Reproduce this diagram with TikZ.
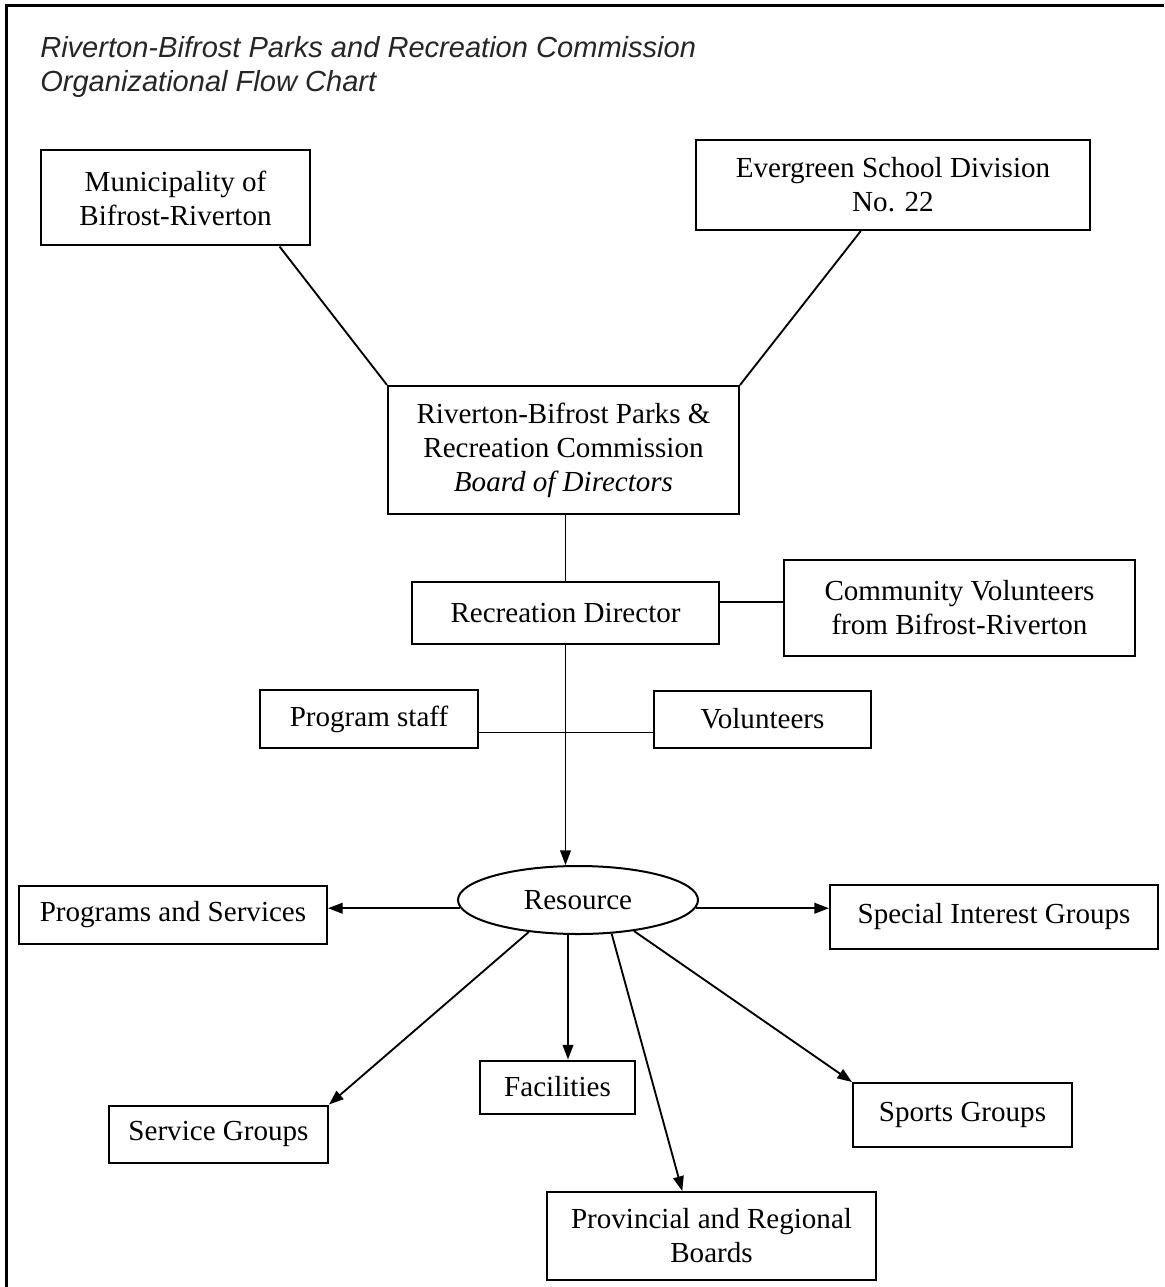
\documentclass[tikz,border=0pt]{standalone}
\usepackage{fontspec}
\setmainfont{Liberation Serif}
\newfontfamily\titlefont{Liberation Sans}
\usetikzlibrary{shapes.geometric,arrows.meta}
\begin{document}
\begin{tikzpicture}[x=0.75pt,y=0.75pt,yscale=-1,xscale=1,
  box/.style={draw, line width=1.5pt, inner sep=0pt, align=center, font=\fontsize{21.8}{25.5}\selectfont},
  link/.style={line width=1.4pt},
  arr/.style={line width=1.4pt, -{Triangle[length=11pt,width=8pt]}}]
\useasboundingbox (0,0) rectangle (1164,1287);

%Frame
\draw [line width=2.4pt] (1164,5.5) -- (6.5,5.5) -- (6.5,1287) ;

% Text Node
\node [anchor=west, align=left, inner sep=0pt, text=black!85, font=\titlefont\itshape\fontsize{21.8}{25.5}\selectfont] (title) at (40,67) {Riverton-Bifrost Parks and Recreation Commission\\Organizational Flow Chart};

%Shape: Rectangle
\node [box, minimum width=201.75pt, minimum height=71.25pt] (muni) at (175.5,198) {Municipality of\\Bifrost-Riverton};
%Shape: Rectangle
\node [box, minimum width=295.5pt, minimum height=67.5pt] (ever) at (893,185) {Evergreen School Division\\No. 22};
%Shape: Rectangle
\node [box, minimum width=263.25pt, minimum height=96pt] (board) at (563.5,450) {Riverton-Bifrost Parks \&\\Recreation Commission\\\textit{Board of Directors}};
%Shape: Rectangle
\node [box, minimum width=230.25pt, minimum height=46.5pt] (rd) at (565.5,613) {Recreation Director};
%Shape: Rectangle
\node [box, minimum width=263.25pt, minimum height=72pt] (comm) at (959.5,608) {Community Volunteers\\from Bifrost-Riverton};
%Shape: Rectangle
\node [box, minimum width=163.5pt, minimum height=43.5pt] (staff) at (369,719) {Program staff};
%Shape: Rectangle
\node [box, minimum width=162.75pt, minimum height=42.75pt] (vol) at (762.5,719) {Volunteers};
%Shape: Ellipse
\node [box, ellipse, minimum width=180pt, minimum height=51pt] (res) at (578,900) {Resource};
%Shape: Rectangle
\node [box, minimum width=231pt, minimum height=43.5pt] (prog) at (173,915) {Programs and Services};
%Shape: Rectangle
\node [box, minimum width=246pt, minimum height=48pt] (spec) at (994,917) {Special Interest Groups};
%Shape: Rectangle
\node [box, minimum width=164.25pt, minimum height=42.75pt] (serv) at (218.5,1134) {Service Groups};
%Shape: Rectangle
\node [box, minimum width=116.25pt, minimum height=39.75pt] (fac) at (557.5,1087) {Facilities};
%Shape: Rectangle
\node [box, minimum width=164.25pt, minimum height=48pt] (sport) at (962.5,1115) {Sports Groups};
%Shape: Rectangle
\node [box, minimum width=246.75pt, minimum height=66pt] (prov) at (711.5,1236) {Provincial and Regional\\Boards};

%Straight Lines
\draw [link] (muni.-25) -- (board.north west) ;
\draw [link] (ever.-125) -- (board.north east) ;
\draw [link] (board.south -| rd.north) -- (rd.north) ;
\draw [link] (rd.4) -- (rd.4 -| comm.west) ;
\draw [link] (staff.-7) -- (staff.-7 -| vol.west) ;

%Arrows
\draw [arr] (rd.south) -- (rd.south |- res.north) ;
\draw [arr] (res.184) -- (res.184 -| prog.east) ;
\draw [arr] (res.-4) -- (res.-4 -| spec.west) ;
\draw [arr] (res.-147) -- (serv.north east) ;
\draw [arr] (res.-106) -- (res.-106 |- fac.north) ;
\draw [arr] (res.-45) -- (prov.123) ;
\draw [arr] (res.-29) -- (sport.north west) ;

\end{tikzpicture}
\end{document}
